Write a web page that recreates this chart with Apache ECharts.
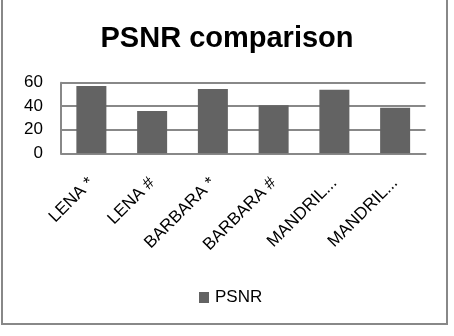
<!DOCTYPE html>
<html><head><meta charset="utf-8">
<script src="https://cdn.jsdelivr.net/npm/echarts@6/dist/echarts.min.js"></script>
<style>html,body{margin:0;padding:0;background:#fff}#c{width:454px;height:336px}</style>
</head><body><div id="c"></div>
<script>
const categories = ['LENA *', 'LENA #', 'BARBARA *', 'BARBARA #', 'MANDRIL...', 'MANDRIL...'];
const psnr = [57.2, 35.9, 54.6, 40.8, 54.0, 38.8];
const yTicks = [0, 20, 40, 60];
const chart = echarts.init(document.getElementById('c'));
const font = '"Liberation Sans", Arial, sans-serif';
chart.setOption({
  animation: false,
  title: { text: 'PSNR comparison', left: 'center', top: 19,
    textStyle: { fontFamily: font, fontSize: 29, fontWeight: 'bold', color: '#000' } },
  legend: { data: ['PSNR'], left: 199, top: 289, padding: 0, itemWidth: 10, itemHeight: 11, itemGap: 6,
    icon: 'rect', textStyle: { fontFamily: font, fontSize: 17, color: '#000', padding: [0, 0, 0, 1] } },
  grid: { left: 61, right: 28.5, top: 82.7, bottom: 182.7, containLabel: false },
  xAxis: { type: 'category', data: categories,
    axisLine: { show: true, lineStyle: { color: '#888', width: 2 } },
    axisTick: { show: false },
    axisLabel: { rotate: 45, interval: 0, margin: 27, fontFamily: font, fontSize: 17, color: '#000' } },
  yAxis: { type: 'value', min: yTicks[0], max: yTicks[yTicks.length - 1], interval: 20,
    axisLine: { show: true, lineStyle: { color: '#888', width: 2 } },
    axisTick: { show: false },
    splitLine: { lineStyle: { color: '#888', width: 2 } },
    axisLabel: { margin: 18, fontFamily: font, fontSize: 17, color: '#000' } },
  series: [{ name: 'PSNR', type: 'bar', data: psnr, barWidth: 30,
    itemStyle: { color: '#636363' } }],
  graphic: [{ type: 'polyline', shape: { points: [[2, 0], [2, 324], [447, 324], [447, 0]] },
    style: { stroke: '#888', lineWidth: 2, fill: null } }]
});
</script></body></html>
